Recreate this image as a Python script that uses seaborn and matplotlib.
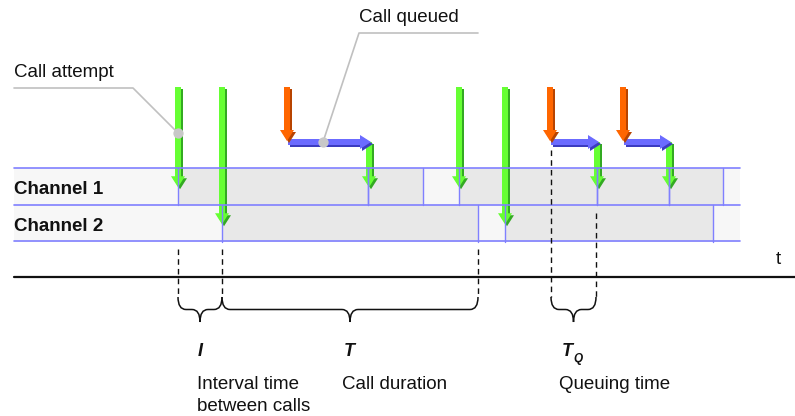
import matplotlib
matplotlib.use("Agg")
import matplotlib.pyplot as plt
from matplotlib.patches import FancyArrow, Rectangle, PathPatch
from matplotlib.path import Path
import pandas as pd
import seaborn as sns

# time line (pixel-like time units)
t_first, t_last = 14, 740
# busy periods per channel (start, end)
ch1_busy = [(178, 368), (368, 423), (459, 597), (597, 669), (669, 723)]
ch2_busy = [(222, 478), (505, 713)]
# calls that got a channel right away: (time, channel)
direct_calls = [(178, 1), (222, 2), (459, 1), (505, 2)]
# queued calls: arrival time, time they got channel 1
queued_arrival = [287, 550, 623]
queued_served = [369, 597, 669]
# intervals marked below the axis
brace_from = [178, 222, 551]
brace_to = [222, 478, 596]
brace_symbol = ["I", "T", "T"]
brace_text = [["Interval time", "between calls"], ["Call duration"], ["Queuing time"]]

sns.set_theme(style="white")
plt.rcParams["font.family"] = ["Liberation Sans", "DejaVu Sans"]

fig = plt.figure(figsize=(7.95, 4.16), dpi=100)
ax = fig.add_axes([0, 0, 1, 1])

row_top = {1: 168, 2: 205}
row_h = 36.5
row_mid = {k: v + row_h / 2 for k, v in row_top.items()}
line_c = "#8080ff"
green, green_d = "#66ff33", "#33aa22"
orange, orange_d = "#ff6600", "#b84400"
blue, blue_d = "#6b6bff", "#3c3cc0"

# channel rows
for ch, busy in [(1, ch1_busy), (2, ch2_busy)]:
    y0 = row_top[ch]
    ax.add_patch(Rectangle((t_first, y0), t_last - t_first, row_h, fc="#f7f7f7", ec="none"))
    for s, e in busy:
        ax.add_patch(Rectangle((s, y0), e - s, row_h, fc="#e8e8e8", ec="none"))
        ax.plot([s, s], [y0, y0 + row_h], color=line_c, lw=1)
        ax.plot([e, e], [y0, y0 + row_h], color=line_c, lw=1)
    ax.text(t_first, y0 + 26, f"Channel {ch}", fontsize=13.5, fontweight="bold", color="#111111")
for y in [168, 205, 241]:
    ax.plot([t_first, t_last], [y, y], color=line_c, lw=1.2)


def arrow(x0, y0, x1, y1, c, cd):
    kw = dict(width=6, head_width=14, head_length=11, length_includes_head=True, lw=0)
    ax.add_patch(FancyArrow(x0 + 2, y0 + 2, x1 - x0, y1 - y0, color=cd, **kw))
    ax.add_patch(FancyArrow(x0, y0, x1 - x0, y1 - y0, color=c, **kw))


for t, ch in direct_calls:
    arrow(t, 87, t, row_mid[ch] + 1, green, green_d)
for a, s in zip(queued_arrival, queued_served):
    arrow(s, 142, s, row_mid[1] + 1, green, green_d)
    arrow(a + 1, 142, s + 2, 142, blue, blue_d)
    arrow(a, 87, a, 141, orange, orange_d)

# leader lines
ax.plot([t_first, 133, 178], [88, 88, 133], color="#c0c0c0", lw=1.2)
ax.plot([478, 359, 323], [33, 33, 142], color="#c0c0c0", lw=1.2)
dots = pd.DataFrame({"x": [178, 323], "y": [133, 142]})
sns.scatterplot(data=dots, x="x", y="y", ax=ax, color="#c8c8c8", s=55, linewidth=0, zorder=5)
ax.text(14, 77, "Call attempt", fontsize=13.5, color="#111111")
ax.text(359, 22, "Call queued", fontsize=13.5, color="#111111")

# time axis
ax.plot([t_first, 795], [277, 277], color="#111111", lw=1.6)
ax.text(776, 264, "t", fontsize=13.5, color="#111111")

# dashed markers
dash_x = [178, 222, 478, queued_arrival[1] + 1, queued_served[1] - 1]
dash_top = [249, 249, 249, 150, 213]
for x, yt in zip(dash_x, dash_top):
    ax.plot([x, x], [yt, 297], color="#111111", lw=1, ls=(0, (4, 3)))

# braces
yb, yh, yt = 297, 309.5, 322
for x0, x1 in zip(brace_from, brace_to):
    xm = (x0 + x1) / 2
    r = 8
    verts = [(x0, yb), (x0, yh), (x0 + r, yh), (xm - r, yh), (xm, yh), (xm, yt),
             (xm, yh), (xm + r, yh), (x1 - r, yh), (x1, yh), (x1, yb)]
    codes = [Path.MOVETO, Path.CURVE3, Path.CURVE3, Path.LINETO, Path.CURVE3, Path.CURVE3,
             Path.CURVE3, Path.CURVE3, Path.LINETO, Path.CURVE3, Path.CURVE3]
    ax.add_patch(PathPatch(Path(verts, codes), fc="none", ec="#111111", lw=1.1))

sym_x = [198, 344, 562]
txt_x = [197, 342, 559]
for sx, tx, sym, lines in zip(sym_x, txt_x, brace_symbol, brace_text):
    ax.text(sx, 356, sym, fontsize=13, fontweight="bold", style="italic", color="#111111")
    for i, line in enumerate(lines):
        ax.text(tx, 389 + 22 * i, line, fontsize=13.5, color="#111111")
ax.text(573, 362, "Q", fontsize=8.5, fontweight="bold", style="italic", color="#111111")

ax.set_xlim(0, 795)
ax.set_ylim(416, 0)
ax.axis("off")
fig.savefig("out.png", dpi=100)
